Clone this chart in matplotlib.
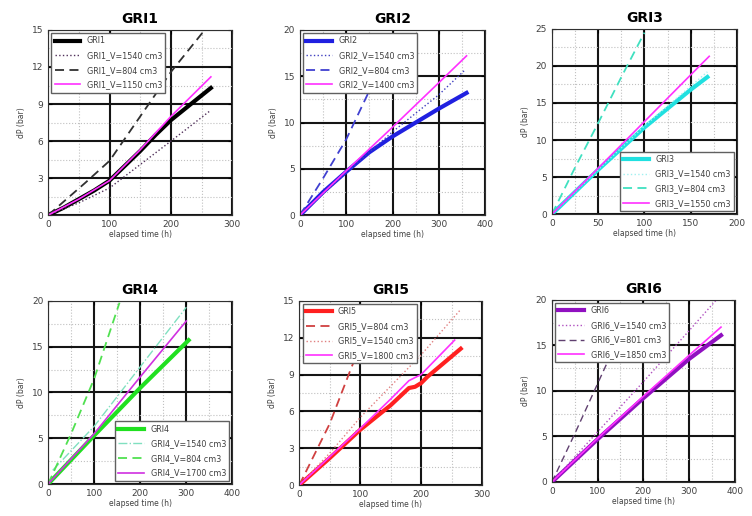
import matplotlib.pyplot as plt
import numpy as np
from matplotlib.ticker import MultipleLocator

# ---- data (elapsed time h, dP bar) ----
gri1_t = [0, 25, 50, 75, 100, 125, 150, 175, 200, 225, 250, 265]
gri1_p = [0, 0.6, 1.3, 2.0, 2.8, 4.0, 5.2, 6.5, 7.7, 8.7, 9.7, 10.3]
gri1_v1540_t = [0, 50, 100, 150, 200, 265]
gri1_v1540_p = [0, 1.0, 2.2, 4.1, 6.0, 8.5]
gri1_v804_t = [0, 30, 60, 100, 150, 200, 255]
gri1_v804_p = [0, 1.3, 2.6, 4.4, 8.0, 11.6, 15.0]
gri1_v1150_t = [0, 50, 100, 150, 200, 265]
gri1_v1150_p = [0, 1.3, 2.8, 5.3, 8.0, 11.2]

gri2_t = [0, 50, 100, 150, 200, 250, 300, 360]
gri2_p = [0, 2.5, 4.7, 6.8, 8.5, 10.0, 11.5, 13.2]
gri2_v1540_t = [0, 100, 200, 300, 355]
gri2_v1540_p = [0, 4.6, 9.0, 13.0, 15.6]
gri2_v804_t = [0, 50, 100, 160, 240]
gri2_v804_p = [0, 4.0, 8.2, 14.5, 20.0]
gri2_v1400_t = [0, 100, 200, 300, 360]
gri2_v1400_p = [0, 4.8, 9.5, 14.3, 17.2]

gri3_t = [0, 50, 100, 150, 168]
gri3_p = [0, 6.0, 11.7, 16.8, 18.5]
gri3_v1540_t = [0, 50, 100, 168]
gri3_v1540_p = [0, 6.0, 11.9, 19.2]
gri3_v804_t = [0, 25, 50, 75, 100]
gri3_v804_p = [0, 6.3, 12.3, 18.5, 24.5]
gri3_v1550_t = [0, 50, 100, 150, 170]
gri3_v1550_p = [0, 6.2, 12.5, 18.8, 21.3]

gri4_t = [0, 100, 200, 305]
gri4_p = [0, 5.3, 10.5, 15.7]
gri4_v1540_t = [10, 100, 200, 300]
gri4_v1540_p = [1.5, 6.3, 12.8, 19.3]
gri4_v804_t = [0, 50, 100, 155]
gri4_v804_p = [0, 5.5, 11.5, 19.8]
gri4_v1700_t = [0, 100, 200, 300]
gri4_v1700_p = [0, 5.5, 11.7, 17.8]

gri5_t = [0, 50, 100, 150, 180, 190, 200, 210, 265]
gri5_p = [0, 2.2, 4.5, 6.5, 7.9, 8.0, 8.3, 8.8, 11.1]
gri5_v804_t = [0, 50, 85, 130]
gri5_v804_p = [0, 5.0, 9.5, 15.0]
gri5_v1540_t = [0, 50, 100, 200, 265]
gri5_v1540_p = [0, 2.6, 5.5, 10.6, 14.3]
gri5_v1800_t = [0, 50, 100, 150, 180, 200, 255]
gri5_v1800_p = [0, 2.3, 4.6, 7.0, 8.5, 9.0, 11.8]

gri6_t = [0, 100, 200, 300, 370]
gri6_p = [0, 4.7, 9.2, 13.5, 16.1]
gri6_v1540_t = [0, 100, 200, 300, 360]
gri6_v1540_p = [0, 5.5, 11.0, 16.6, 20.0]
gri6_v801_t = [0, 50, 120, 180]
gri6_v801_p = [0, 5.3, 13.0, 20.0]
gri6_v1850_t = [0, 100, 200, 300, 370]
gri6_v1850_p = [0, 4.8, 9.4, 13.9, 17.0]

magenta = '#ff30ff'

panels = [
    dict(title='GRI1', pos=[0.064, 0.583, 0.245, 0.359], xmax=300, xstep=100, ymax=15, ystep=3, loc='upper left',
         lines=[(gri1_t, gri1_p, 'GRI1', '#000000', '-', 3.0),
                (gri1_v1540_t, gri1_v1540_p, 'GRI1_V=1540 cm3', '#50305a', ':', 1.0),
                (gri1_v804_t, gri1_v804_p, 'GRI1_V=804 cm3', '#303030', (0, (5, 3)), 1.3),
                (gri1_v1150_t, gri1_v1150_p, 'GRI1_V=1150 cm3', magenta, '-', 1.2)]),
    dict(title='GRI2', pos=[0.399, 0.583, 0.246, 0.359], xmax=400, xstep=100, ymax=20, ystep=5, loc='upper left',
         lines=[(gri2_t, gri2_p, 'GRI2', '#2020e0', '-', 3.0),
                (gri2_v1540_t, gri2_v1540_p, 'GRI2_V=1540 cm3', '#4040c0', ':', 1.0),
                (gri2_v804_t, gri2_v804_p, 'GRI2_V=804 cm3', '#4040d0', (0, (5, 3)), 1.3),
                (gri2_v1400_t, gri2_v1400_p, 'GRI2_V=1400 cm3', magenta, '-', 1.2)]),
    dict(title='GRI3', pos=[0.734, 0.585, 0.246, 0.359], xmax=200, xstep=50, ymax=25, ystep=5, loc='lower right',
         lines=[(gri3_t, gri3_p, 'GRI3', '#20e0e0', '-', 3.0),
                (gri3_v1540_t, gri3_v1540_p, 'GRI3_V=1540 cm3', '#a0f0f0', ':', 1.0),
                (gri3_v804_t, gri3_v804_p, 'GRI3_V=804 cm3', '#40e0c0', (0, (5, 3)), 1.3),
                (gri3_v1550_t, gri3_v1550_p, 'GRI3_V=1550 cm3', magenta, '-', 1.2)]),
    dict(title='GRI4', pos=[0.064, 0.062, 0.245, 0.355], xmax=400, xstep=100, ymax=20, ystep=5, loc='lower right',
         lines=[(gri4_t, gri4_p, 'GRI4', '#20e020', '-', 3.0),
                (gri4_v1540_t, gri4_v1540_p, 'GRI4_V=1540 cm3', '#80e0c0', '-.', 1.0),
                (gri4_v804_t, gri4_v804_p, 'GRI4_V=804 cm3', '#50e050', (0, (5, 3)), 1.3),
                (gri4_v1700_t, gri4_v1700_p, 'GRI4_V=1700 cm3', '#d030e0', '-', 1.2)]),
    dict(title='GRI5', pos=[0.398, 0.060, 0.243, 0.357], xmax=300, xstep=100, ymax=15, ystep=3, loc='upper left',
         lines=[(gri5_t, gri5_p, 'GRI5', '#ff2020', '-', 3.0),
                (gri5_v804_t, gri5_v804_p, 'GRI5_V=804 cm3', '#d04040', (0, (5, 3)), 1.3),
                (gri5_v1540_t, gri5_v1540_p, 'GRI5_V=1540 cm3', '#e08080', ':', 1.0),
                (gri5_v1800_t, gri5_v1800_p, 'GRI5_V=1800 cm3', magenta, '-', 1.2)]),
    dict(title='GRI6', pos=[0.734, 0.066, 0.243, 0.353], xmax=400, xstep=100, ymax=20, ystep=5, loc='upper left',
         lines=[(gri6_t, gri6_p, 'GRI6', '#9010c0', '-', 3.0),
                (gri6_v1540_t, gri6_v1540_p, 'GRI6_V=1540 cm3', '#b050c0', ':', 1.0),
                (gri6_v801_t, gri6_v801_p, 'GRI6_V=801 cm3', '#604070', (0, (5, 3)), 1.0),
                (gri6_v1850_t, gri6_v1850_p, 'GRI6_V=1850 cm3', magenta, '-', 1.2)]),
]

fig = plt.figure(figsize=(7.52, 5.16), dpi=100)

for p in panels:
    ax = fig.add_axes(p['pos'])
    for t, v, lab, col, ls, lw in p['lines']:
        ax.plot(t, v, color=col, linestyle=ls, linewidth=lw, label=lab)
    ax.set_xlim(0, p['xmax'])
    ax.set_ylim(0, p['ymax'])
    ax.xaxis.set_major_locator(MultipleLocator(p['xstep']))
    ax.yaxis.set_major_locator(MultipleLocator(p['ystep']))
    ax.xaxis.set_minor_locator(MultipleLocator(p['xstep'] / 2))
    ax.yaxis.set_minor_locator(MultipleLocator(p['ystep'] / 2))
    ax.grid(which='major', color='#151515', linewidth=1.5)
    ax.grid(which='minor', color='#c0c0c0', linestyle=':', linewidth=0.8)
    ax.set_axisbelow(True)
    ax.tick_params(which='both', direction='in', top=True, right=True, labelsize=6.5,
                   labelcolor='#404040', length=3)
    ax.tick_params(which='minor', length=0)
    ax.set_title(p['title'], fontsize=10, fontweight='bold', pad=5)
    ax.set_xlabel('elapsed time (h)', fontsize=5.5, color='#404040', labelpad=1)
    ax.set_ylabel('dP (bar)', fontsize=5.5, color='#404040', labelpad=4)
    for s in ax.spines.values():
        s.set_color('#303030')
    leg = ax.legend(loc=p['loc'], fontsize=5.8, frameon=True, fancybox=False, framealpha=1,
                    edgecolor='#606060', handlelength=3.2, borderaxespad=0.4, labelspacing=0.7)
    for txt in leg.get_texts():
        txt.set_color('#404040')

fig.savefig('out.png', dpi=100)
